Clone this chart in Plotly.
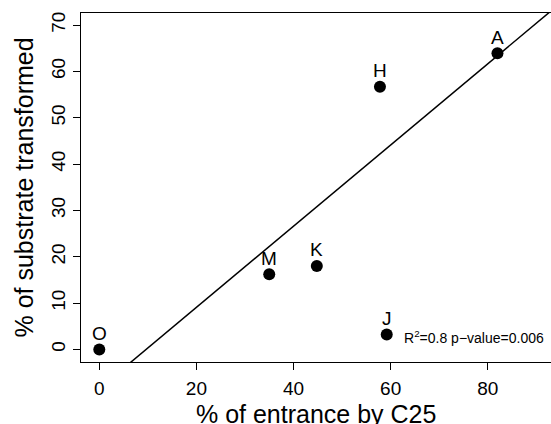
import plotly.graph_objects as go

# Data
labels = ["O", "M", "K", "J", "H", "A"]
entrance_c25 = [0, 35, 44.8, 59.2, 57.8, 82]      # % of entrance by C25
substrate_tr = [0, 16.2, 18, 3.2, 56.7, 63.9]     # % of substrate transformed

fit_intercept = -8.45
fit_slope = 0.876

x_ticks = [0, 20, 40, 60, 80]
y_ticks = [0, 10, 20, 30, 40, 50, 60, 70]

x_range = [-3.77, 93.03]
y_range = [-2.72, 72.6]

FONT = "Liberation Sans, Arial, sans-serif"

fig = go.Figure()

# regression line across the whole plot width
line_x = [x_range[0] - 5, x_range[1] + 5]
line_y = [fit_intercept + fit_slope * v for v in line_x]
fig.add_trace(go.Scatter(x=line_x, y=line_y, mode="lines",
                         line=dict(color="black", width=1.5),
                         hoverinfo="skip", showlegend=False))

fig.add_trace(go.Scatter(x=entrance_c25, y=substrate_tr, mode="markers",
                         marker=dict(color="black", size=12),
                         showlegend=False, cliponaxis=False))

annotations = []
for lab, xv, yv in zip(labels, entrance_c25, substrate_tr):
    annotations.append(dict(x=xv, y=yv, xref="x", yref="y", text=lab,
                            showarrow=False, yanchor="middle", yshift=16,
                            font=dict(family=FONT, size=19, color="black")))

annotations.append(dict(x=0.989, y=0.0716, xref="paper", yref="paper",
                        text="R<sup>2</sup>=0.8 p\u2212value=0.006",
                        showarrow=False, xanchor="right", yanchor="middle",
                        font=dict(family=FONT, size=14, color="black")))

annotations.append(dict(x=0.5, y=0, xref="paper", yref="paper",
                        text="% of entrance by C25", showarrow=False,
                        xanchor="center", yanchor="middle", yshift=-52,
                        font=dict(family=FONT, size=25, color="black")))
annotations.append(dict(x=0, y=0.5, xref="paper", yref="paper",
                        text="% of substrate transformed", showarrow=False,
                        textangle=-90, xanchor="center", yanchor="middle",
                        xshift=-58,
                        font=dict(family=FONT, size=25, color="black")))

fig.update_layout(
    width=551, height=424,
    margin=dict(l=81, r=0, t=13, b=62),
    paper_bgcolor="white", plot_bgcolor="white",
    annotations=annotations,
    font=dict(family=FONT, color="black"),
    xaxis=dict(range=x_range, tickvals=x_ticks, ticks="outside", ticklen=7,
               tickcolor="black", showline=True, linecolor="black",
               linewidth=1.3, mirror=True, showgrid=False, zeroline=False,
               ticklabelstandoff=2,
               tickfont=dict(family=FONT, size=19, color="black")),
    yaxis=dict(range=y_range, tickvals=y_ticks, ticks="outside", ticklen=7,
               tickcolor="black", showline=True, linecolor="black",
               linewidth=1.3, showgrid=False, zeroline=False, tickangle=-90,
               tickfont=dict(family=FONT, size=19, color="black")),
)

fig.write_html("out.html",
               config={"displayModeBar": False},
               post_script="document.body.style.margin='0';"
                           "document.body.style.overflow='hidden';")
